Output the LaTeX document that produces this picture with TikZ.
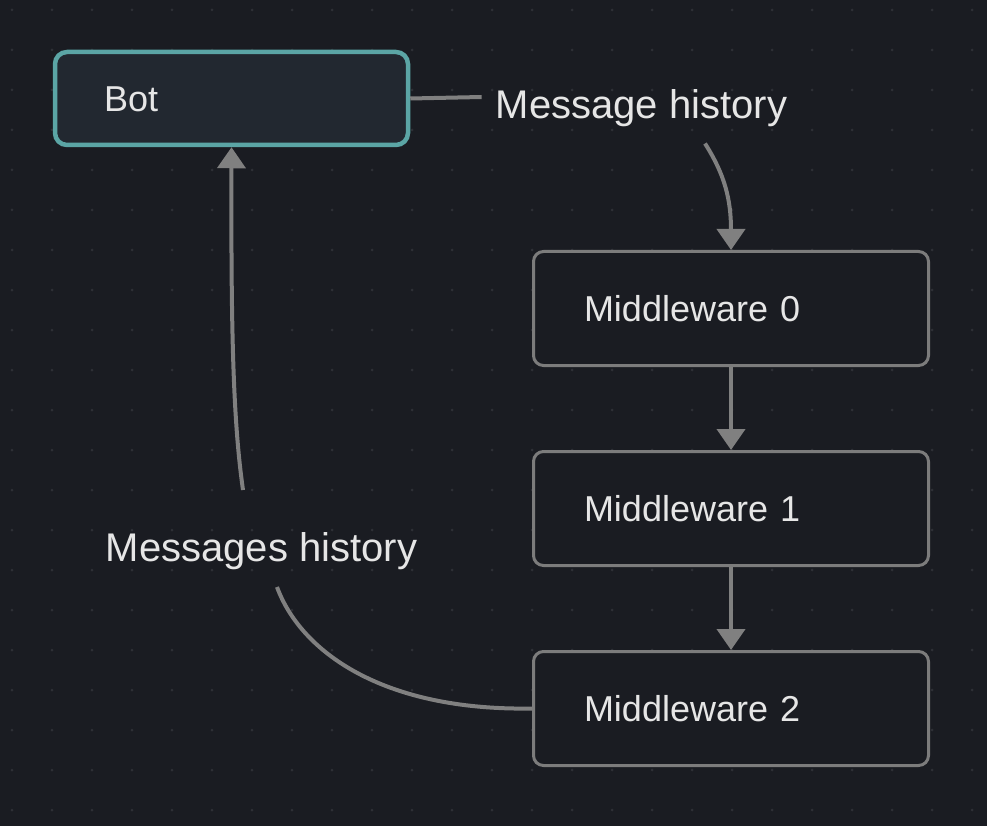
\documentclass[tikz,border=0pt]{standalone}
\usepackage{fontspec}
\setmainfont{Liberation Sans}
\usetikzlibrary{arrows.meta}

\definecolor{bgc}{HTML}{1A1C22}
\definecolor{dotc}{HTML}{2E3036}
\definecolor{botfill}{HTML}{222830}
\definecolor{teal}{HTML}{5BA5A5}
\definecolor{mwgray}{HTML}{7C7C7C}
\definecolor{edgec}{HTML}{808080}
\definecolor{txt}{HTML}{E6E6E6}

\tikzset{
  mwbox/.style={draw=mwgray, line width=3pt, rounded corners=10pt, fill=bgc,
    minimum width=395pt, minimum height=114pt, inner xsep=50.5pt, text width=294pt,
    align=left, text=txt, font=\fontsize{36}{40}\selectfont, text height=25.8pt, text depth=0pt},
  botbox/.style={mwbox, draw=teal, line width=4.5pt, rounded corners=12pt, fill=botfill,
    minimum width=353pt, minimum height=93pt, inner xsep=49pt, text width=255pt},
  lbl/.style={text=txt, font=\fontsize{40}{44}\selectfont, text height=28.6pt, text depth=0pt,
    inner xsep=14pt, inner ysep=25pt},
  flow/.style={draw=edgec, line width=4pt},
  tip/.style={-{Triangle[length=21pt,width=28pt]}}
}

\begin{document}
\begin{tikzpicture}[x=1pt, y=-1pt]
\fill[bgc] (0,0) rectangle (987,826);
\useasboundingbox (0,0) rectangle (987,826);
% dotted grid
\foreach \x in {12,52,...,972} {
  \foreach \y in {10,50,...,810} {
    \fill[dotc] (\x,\y) circle (1.5pt);
  }
}

\node[botbox] (bot) at (231.5,98.5) {Bot};
\node[mwbox] (mw0) at (731,308.5) {Middleware 0};
\node[mwbox] (mw1) at (731,508.5) {Middleware 1};
\node[mwbox] (mw2) at (731,708.5) {Middleware 2};

\node[lbl] (msg) at (641.5,104) {Message history};
\node[lbl] (hist) at (261.5,547.5) {Messages history};

% down the chain
\draw[flow] (bot.east) -- ([yshift=7pt]msg.west);
\draw[flow, tip] ([xshift=63.5pt]msg.south) .. controls (725,175) and (731,200) .. (mw0.north);
\draw[flow, tip] (mw0.south) -- (mw1.north);
\draw[flow, tip] (mw1.south) -- (mw2.north);
% back to the bot
\draw[flow] (mw2.west) .. controls (380,711) and (300,650) .. ([xshift=15.5pt]hist.south);
\draw[flow, tip] ([xshift=-18.5pt,yshift=18pt]hist.north) .. controls (233,420) and (231,330) .. (bot.south);
\end{tikzpicture}
\end{document}
